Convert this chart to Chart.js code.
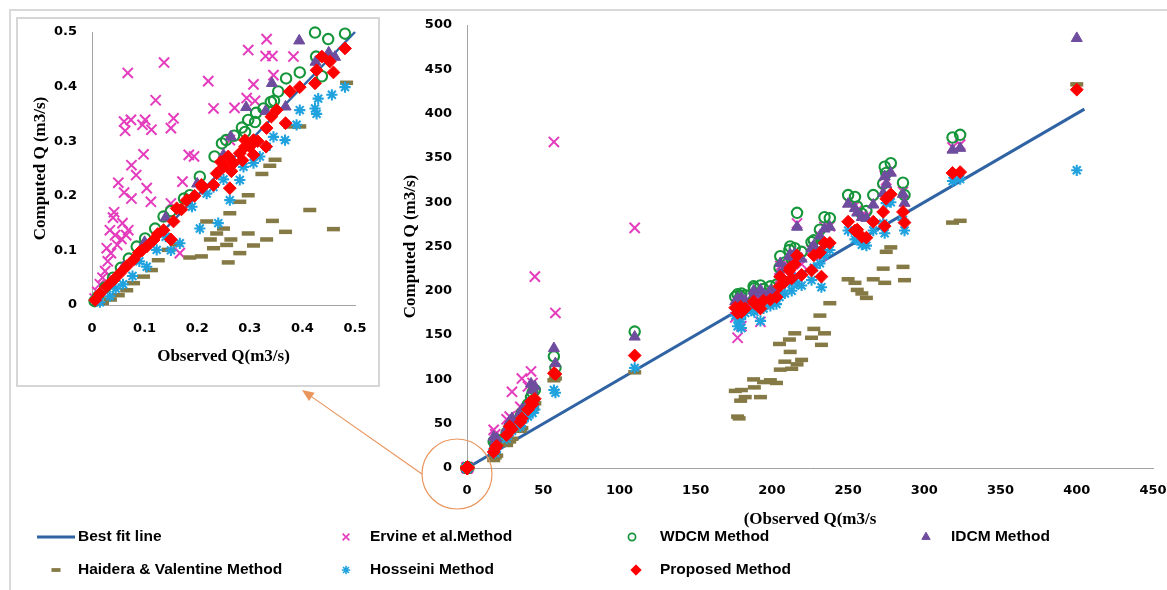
<!DOCTYPE html>
<html>
<head>
<meta charset="utf-8">
<script src="https://cdn.jsdelivr.net/npm/chart.js@4.4.1/dist/chart.umd.min.js"></script>
<style>
  html, body { margin: 0; padding: 0; background: #fff; }
  #wrap { position: relative; width: 1167px; height: 590px; overflow: hidden; background: #fff; }
  #frame { position: absolute; left: 9px; top: 9px; width: 1300px; height: 700px;
           border-left: 2px solid #d9d9d9; border-top: 2px solid #d9d9d9; }
  #main { position: absolute; left: 0; top: 0; }
  #insetBox { position: absolute; left: 16px; top: 17px; width: 360px; height: 366px;
              border: 2px solid #d6d6d6; background: #fff; }
  #inset { position: absolute; left: 0; top: 0; }
</style>
</head>
<body>
<div id="wrap">
  <div id="frame"></div>
  <canvas id="main" width="1167" height="590"></canvas>
  <div id="insetBox"><canvas id="inset" width="360" height="366"></canvas></div>
</div>
<script>
// ---------- axis ticks ----------
const mainXTicks = [0, 50, 100, 150, 200, 250, 300, 350, 400, 450];
const mainYTicks = [0, 50, 100, 150, 200, 250, 300, 350, 400, 450, 500];
const insetTicks = [0, 0.1, 0.2, 0.3, 0.4, 0.5];
const insetTickLabels = ['0', '0.1', '0.2', '0.3', '0.4', '0.5'];

// ---------- best fit line (Q computed = Q observed) ----------
const bestFitObs = [0, 405];
const bestFitQ = [0, 405];
const bestFitInsetObs = [0, 0.5];
const bestFitInsetQ = [0, 0.5];

// ---------- large flows (m3/s): observed discharge and computed values ----------
const obsLarge = [17.5, 18.5, 19.5, 26, 28, 29.5, 35, 36, 40, 42, 43, 44.5, 57, 58, 110,
  176, 177.5, 178.5, 179.5, 180, 182.5, 188, 188.5, 192.5, 194.5, 199, 203,
  205.5, 205, 208.5, 211.5, 212, 213, 215, 216.5, 219.5,
  226, 227.5, 231.5, 232.5, 234.5, 238, 250, 254.5, 256, 259, 262,
  266.5, 273, 274, 275, 278, 286, 287, 318.5, 323.5, 400];
const ervineLarge = [43, 38, 33, 55, 58, 86, 69, 101, 92, 109, 96, 216, 368, 175, 271,
  170, 147, 182, 185, 160, 188, 196, 192, 165, 198, 197, 201,
  228, 214, 222, 233, 236, 224, 240, 276, 230,
  246, 250, 262, 240, 272, 273, 300, 296, 291, 285, 284,
  300, 313, 330, 325, 336, 312, 301, 362, 365, null];
const wdcmLarge = [30, 27, 32, 40, 47, 50, 58, 62, 72, 80, 85, 88, 126, 113, 154,
  193, 196, 190, 194, 197, 195, 205, 203, 206, 202, 205, 207,
  239, 226, 232, 246, 250, 236, 248, 288, 244,
  255, 257, 269, 253, 283, 282, 308, 306, 295, 287, 290,
  308, 321, 340, 333, 344, 322, 308, 373, 376, null];
const idcmLarge = [35, 30, 33, 44, 53, 56, 62, 66, 73, 95, 88, 92, 135, 118, 148,
  188, 191, 186, 190, 192, 189, 200, 197, 201, 196, 200, 202,
  231, 219, 225, 239, 241, 229, 242, 272, 236,
  248, 251, 262, 246, 270, 272, 298, 293, 288, 283, 282,
  297, 310, 329, 320, 333, 309, 299, 359, 361, 485];
const haideraLarge = [9, 12, 14, 26, 30, 33, 42, 45, 62, 70, 67, 73, 99, 101, 108,
  87, 58, 56, 76, 88, 80, 100, 91, 80, 97, 99, 96,
  111, 140, 120, 145, 131, 112, 152, 117, 122,
  147, 157, 172, 139, 152, 186, 213, 209, 201, 197, 192,
  213, 225, 209, 244, 249, 227, 212, 277, 279, 433];
const hosseiniLarge = [20, 17, 22, 33, 40, 42, 47, 51, 58, 65, 62, 66, 88, 85, 113,
  172, 160, 165, 168, 158, 175, 178, 176, 166, 180, 183, 185,
  203, 193, 197, 209, 212, 200, 214, 208, 206,
  212, 226, 231, 204, 240, 246, 268, 258, 259, 252, 251,
  268, 276, 265, 299, 300, 280, 268, 324, 326, 336];
const proposedLarge = [18, 22, 25, 37, 47, 44, 52, 56, 66, 75, 72, 78, 107, 106, 127,
  181, 175, 178, 182, 176, 180, 188, 186, 180, 189, 190, 193,
  216, 205, 210, 223, 226, 214, 230, 240, 218,
  223, 240, 243, 216, 254, 254, 278, 268, 269, 261, 260,
  278, 289, 273, 304, 309, 289, 277, 333, 334, 427];

// ---------- small flows (m3/s) ----------
const ervineSmallObs = [0.068, 0.137, 0.121, 0.221, 0.332, 0.297, 0.330, 0.343, 0.383, 0.345,
  0.307, 0.231, 0.271, 0.294, 0.310, 0.061, 0.074, 0.063, 0.101, 0.113,
  0.096, 0.155, 0.150, 0.098, 0.075, 0.084, 0.050, 0.061, 0.075, 0.104,
  0.112, 0.042, 0.184, 0.194, 0.172, 0.150, 0.262, 0.167, 0.034, 0.028,
  0.044, 0.056, 0.069, 0.040, 0.020, 0.025, 0.030, 0.015, 0.010, 0.005,
  0.036, 0.048, 0.058, 0.065];
const ervineSmallQ = [0.425, 0.444, 0.375, 0.410, 0.487, 0.467, 0.456, 0.456, 0.455, 0.421,
  0.404, 0.360, 0.361, 0.379, 0.374, 0.336, 0.339, 0.319, 0.339, 0.321,
  0.330, 0.342, 0.324, 0.276, 0.256, 0.238, 0.224, 0.206, 0.195, 0.214,
  0.189, 0.170, 0.275, 0.272, 0.226, 0.186, 0.302, 0.095, 0.137, 0.104,
  0.128, 0.121, 0.137, 0.160, 0.050, 0.062, 0.080, 0.038, 0.024, 0.012,
  0.095, 0.110, 0.150, 0.128];
const wdcmSmallObs = [0.424, 0.449, 0.481, 0.426, 0.437, 0.395, 0.369, 0.354, 0.346, 0.326,
  0.297, 0.291, 0.247, 0.205, 0.186, 0.136, 0.101, 0.085, 0.312, 0.285,
  0.270, 0.255, 0.233, 0.175, 0.150, 0.120, 0.070, 0.055, 0.040, 0.025,
  0.012, 0.005, 0.340, 0.310];
const wdcmSmallQ = [0.499, 0.487, 0.497, 0.455, 0.419, 0.426, 0.415, 0.391, 0.374, 0.360,
  0.339, 0.317, 0.296, 0.235, 0.201, 0.162, 0.122, 0.107, 0.352, 0.325,
  0.310, 0.302, 0.272, 0.195, 0.172, 0.140, 0.085, 0.068, 0.050, 0.032,
  0.016, 0.007, 0.372, 0.335];
const idcmSmallObs = [0.394, 0.293, 0.264, 0.342, 0.368, 0.462, 0.425, 0.330, 0.250, 0.140,
  0.100, 0.060, 0.030, 0.010, 0.450, 0.200];
const idcmSmallQ = [0.484, 0.362, 0.308, 0.406, 0.363, 0.454, 0.445, 0.355, 0.275, 0.160,
  0.115, 0.070, 0.036, 0.012, 0.462, 0.222];
const haideraSmallObs = [0.414, 0.459, 0.368, 0.343, 0.332, 0.307, 0.297, 0.281, 0.259, 0.262,
  0.264, 0.256, 0.237, 0.231, 0.208, 0.186, 0.281, 0.297, 0.323, 0.338,
  0.348, 0.376, 0.395, 0.484, 0.218, 0.126, 0.113, 0.098, 0.079, 0.066,
  0.050, 0.035, 0.020, 0.145, 0.160, 0.250, 0.225];
const haideraSmallQ = [0.174, 0.139, 0.134, 0.154, 0.120, 0.109, 0.131, 0.095, 0.078, 0.168,
  0.120, 0.110, 0.131, 0.104, 0.089, 0.087, 0.189, 0.201, 0.240, 0.255,
  0.266, 0.327, 0.327, 0.407, 0.153, 0.082, 0.064, 0.052, 0.040, 0.027,
  0.018, 0.010, 0.004, 0.101, 0.111, 0.140, 0.120];
const hosseiniSmallObs = [0.481, 0.456, 0.430, 0.424, 0.427, 0.395, 0.389, 0.367, 0.345, 0.332,
  0.319, 0.307, 0.288, 0.281, 0.262, 0.240, 0.205, 0.167, 0.150, 0.123,
  0.104, 0.077, 0.059, 0.034, 0.218, 0.231, 0.250, 0.190, 0.140, 0.090,
  0.015, 0.045];
const hosseiniSmallQ = [0.399, 0.385, 0.378, 0.360, 0.350, 0.357, 0.330, 0.302, 0.308, 0.290,
  0.272, 0.260, 0.253, 0.229, 0.192, 0.150, 0.140, 0.113, 0.100, 0.101,
  0.070, 0.053, 0.038, 0.016, 0.204, 0.216, 0.230, 0.180, 0.125, 0.080,
  0.005, 0.030];
const proposedSmallObs = [0.481, 0.459, 0.452, 0.437, 0.424, 0.427, 0.395, 0.376, 0.368, 0.351,
  0.332, 0.331, 0.307, 0.291, 0.281, 0.269, 0.259, 0.250, 0.237, 0.231,
  0.208, 0.180, 0.161, 0.155, 0.150, 0.136, 0.117, 0.104, 0.089, 0.079,
  0.066, 0.053, 0.041, 0.028, 0.015, 0.006, 0.262, 0.291, 0.307, 0.341,
  0.265, 0.245, 0.210, 0.195, 0.170, 0.125, 0.095, 0.315, 0.300, 0.286];
const proposedSmallQ = [0.470, 0.426, 0.446, 0.455, 0.406, 0.430, 0.399, 0.391, 0.333, 0.357,
  0.324, 0.290, 0.275, 0.290, 0.278, 0.260, 0.272, 0.253, 0.241, 0.220,
  0.220, 0.192, 0.177, 0.153, 0.120, 0.137, 0.119, 0.107, 0.096, 0.083,
  0.071, 0.058, 0.046, 0.034, 0.021, 0.009, 0.214, 0.302, 0.302, 0.345,
  0.245, 0.262, 0.215, 0.200, 0.175, 0.130, 0.100, 0.300, 0.290, 0.265];

// ---------- marker styles ----------
const lineColor = '#2F63A4';
const accent = '#E9955D';
const methods = [
  { label: 'Ervine et al.Method', obs: ervineSmallObs, q: ervineSmallQ, large: ervineLarge,
    pointStyle: 'crossRot', radius: 7.2, borderWidth: 2, color: '#E43CBD', fill: 'rgba(0,0,0,0)', order: 6 },
  { label: 'WDCM Method', obs: wdcmSmallObs, q: wdcmSmallQ, large: wdcmLarge,
    pointStyle: 'circle', radius: 5.2, borderWidth: 2.1, color: '#16963A', fill: 'rgba(0,0,0,0)', order: 5 },
  { label: 'IDCM Method', obs: idcmSmallObs, q: idcmSmallQ, large: idcmLarge,
    pointStyle: 'triangle', radius: 6.4, borderWidth: 1, color: '#6F4D9E', fill: '#6F4D9E', order: 4 },
  { label: 'Haidera & Valentine Method', obs: haideraSmallObs, q: haideraSmallQ, large: haideraLarge,
    pointStyle: 'line', radius: 6.5, borderWidth: 4.5, color: '#857A45', fill: '#857A45', order: 3 },
  { label: 'Hosseini Method', obs: hosseiniSmallObs, q: hosseiniSmallQ, large: hosseiniLarge,
    pointStyle: 'star', radius: 5.6, borderWidth: 2.1, color: '#20A2DF', fill: '#20A2DF', order: 2 },
  { label: 'Proposed Method', obs: proposedSmallObs, q: proposedSmallQ, large: proposedLarge,
    pointStyle: 'rectRot', radius: 6.4, borderWidth: 1, color: '#FF0000', fill: '#FF0000', order: 1 }
];

function pairs(xs, ys) {
  const out = [];
  xs.forEach((x, i) => { if (ys[i] !== null && ys[i] !== undefined) out.push({ x: x, y: ys[i] }); });
  return out;
}

function methodDataset(m, data) {
  return {
    label: m.label, data: data, showLine: false, clip: false, order: m.order,
    pointStyle: m.pointStyle, pointRadius: m.radius, pointHoverRadius: m.radius,
    pointBorderWidth: m.borderWidth, pointBorderColor: m.color, pointBackgroundColor: m.fill
  };
}

function fitDataset(xs, ys) {
  return {
    type: 'line', label: 'Best fit line', data: pairs(xs, ys), showLine: true,
    borderColor: lineColor, borderWidth: 3, pointRadius: 0, fill: false, order: 10, clip: false
  };
}

const tickFont = { family: 'DejaVu Sans', weight: 'bold', size: 13 };
const titleFont = { family: 'Liberation Serif', weight: 'bold', size: 17 };
const axisBorder = { display: true, color: '#a3a3a3', width: 1 };

function fixedTicks(list) {
  return scale => { scale.ticks = list.map(v => ({ value: v })); };
}

// fixed axis box size; tick labels may overhang into the layout padding
function fitBox(prop, size) {
  return scale => {
    scale[prop] = size;
    scale.paddingLeft = 0; scale.paddingRight = 0;
    scale.paddingTop = 0; scale.paddingBottom = 0;
  };
}

// ---------- legend, zoom circle and pointer arrow ----------
function drawMarker(ctx, m, x, y, r, lw) {
  ctx.save();
  ctx.strokeStyle = m.color;
  ctx.fillStyle = m.fill;
  ctx.lineWidth = lw;
  Chart.helpers.drawPoint(ctx, { pointStyle: m.pointStyle, radius: r, borderWidth: lw, rotation: 0 }, x, y);
  ctx.restore();
}

const overlayPlugin = {
  id: 'overlay',
  afterDraw(chart) {
    const ctx = chart.ctx;
    const ox = chart.scales.x.getPixelForValue(0);
    const oy = chart.scales.y.getPixelForValue(0);

    // circle around the origin region shown in the inset
    const cx = ox - 10, cy = oy + 6, r = 35;
    ctx.save();
    ctx.strokeStyle = accent;
    ctx.lineWidth = 1.2;
    ctx.beginPath();
    ctx.arc(cx, cy, r, 0, Math.PI * 2);
    ctx.stroke();

    // arrow from the circle to the inset
    const sx = cx - r, sy = cy;
    const tx = ox - 165, ty = oy - 78;
    const ang = Math.atan2(ty - sy, tx - sx);
    const head = 12, half = 5;
    const bx = tx - Math.cos(ang) * head, by = ty - Math.sin(ang) * head;
    ctx.beginPath();
    ctx.moveTo(sx, sy);
    ctx.lineTo(bx, by);
    ctx.stroke();
    ctx.fillStyle = accent;
    ctx.beginPath();
    ctx.moveTo(tx, ty);
    ctx.lineTo(bx + Math.sin(ang) * half, by - Math.cos(ang) * half);
    ctx.lineTo(bx - Math.sin(ang) * half, by + Math.cos(ang) * half);
    ctx.closePath();
    ctx.fill();
    ctx.restore();

    // legend
    const row1 = 537, row2 = 570;
    ctx.save();
    ctx.font = 'bold 15.5px "Liberation Sans", Arial, sans-serif';
    ctx.fillStyle = '#000';
    ctx.textBaseline = 'middle';
    ctx.textAlign = 'left';
    ctx.strokeStyle = lineColor;
    ctx.lineWidth = 3;
    ctx.beginPath();
    ctx.moveTo(37, row1);
    ctx.lineTo(75, row1);
    ctx.stroke();
    ctx.fillText('Best fit line', 78, row1);

    const items = [
      { m: methods[0], mx: 346, tx: 370, y: row1, r: 4.8, lw: 1.6 },
      { m: methods[1], mx: 632, tx: 660, y: row1, r: 3.6, lw: 1.7 },
      { m: methods[2], mx: 926, tx: 951, y: row1, r: 4.8, lw: 1 },
      { m: methods[3], mx: 56, tx: 78, y: row2, r: 4.5, lw: 3.8 },
      { m: methods[4], mx: 346, tx: 370, y: row2, r: 4.2, lw: 1.6 },
      { m: methods[5], mx: 636, tx: 660, y: row2, r: 5.2, lw: 1 }
    ];
    items.forEach(it => {
      drawMarker(ctx, it.m, it.mx, it.y, it.r, it.lw);
      ctx.fillStyle = '#000';
      ctx.fillText(it.m.label, it.tx, it.y);
    });
    ctx.restore();
  }
};

// ---------- main chart: full discharge range ----------
const mainDatasets = [fitDataset(bestFitObs, bestFitQ)].concat(
  methods.map(m => methodDataset(m, pairs(m.obs, m.q).concat(pairs(obsLarge, m.large))))
);

new Chart(document.getElementById('main'), {
  type: 'scatter',
  data: { datasets: mainDatasets },
  options: {
    responsive: false,
    animation: false,
    events: [],
    layout: { padding: { left: 396, right: 14, top: 25, bottom: 0 } },
    plugins: { legend: { display: false }, tooltip: { enabled: false } },
    scales: {
      x: {
        type: 'linear', min: 0, max: 450,
        afterBuildTicks: fixedTicks(mainXTicks),
        afterFit: fitBox('height', 122),
        grid: { display: false, drawTicks: false },
        border: axisBorder,
        ticks: { padding: 15, color: '#000', font: tickFont, maxRotation: 0, autoSkip: false },
        title: { display: true, text: '(Observed Q(m3/s', color: '#000', font: titleFont,
                 padding: { top: 0, bottom: 60 } }
      },
      y: {
        type: 'linear', min: 0, max: 500,
        afterBuildTicks: fixedTicks(mainYTicks),
        afterFit: fitBox('width', 71),
        grid: { display: false, drawTicks: false },
        border: axisBorder,
        ticks: { padding: 15, color: '#000', font: tickFont, autoSkip: false },
        title: { display: true, text: 'Computed Q (m3/s)', color: '#000', font: titleFont,
                 padding: { top: 4, bottom: 0 } }
      }
    }
  },
  plugins: [overlayPlugin]
});

// ---------- inset chart: small discharges ----------
const insetDatasets = [fitDataset(bestFitInsetObs, bestFitInsetQ)].concat(
  methods.map(m => methodDataset(m, pairs(m.obs, m.q)))
);
insetDatasets[0].borderWidth = 2.5;

new Chart(document.getElementById('inset'), {
  type: 'scatter',
  data: { datasets: insetDatasets },
  options: {
    responsive: false,
    animation: false,
    events: [],
    layout: { padding: { left: 8, right: 23, top: 13, bottom: 0 } },
    plugins: { legend: { display: false }, tooltip: { enabled: false } },
    scales: {
      x: {
        type: 'linear', min: 0, max: 0.5,
        afterBuildTicks: fixedTicks(insetTicks),
        afterFit: fitBox('height', 80),
        grid: { display: false, drawTicks: false },
        border: axisBorder,
        ticks: { padding: 16, color: '#000', font: tickFont, maxRotation: 0, autoSkip: false,
                 callback: (v, i) => insetTickLabels[i] },
        title: { display: true, text: 'Observed Q(m3/s)', color: '#000', font: titleFont,
                 padding: { top: 0, bottom: 18 } }
      },
      y: {
        type: 'linear', min: 0, max: 0.5,
        afterBuildTicks: fixedTicks(insetTicks),
        afterFit: fitBox('width', 66),
        grid: { display: false, drawTicks: false },
        border: axisBorder,
        ticks: { padding: 15, color: '#000', font: tickFont, autoSkip: false,
                 callback: (v, i) => insetTickLabels[i] },
        title: { display: true, text: 'Computed Q (m3/s)', color: '#000', font: titleFont,
                 padding: { top: 4, bottom: 0 } }
      }
    }
  }
});
</script>
</body>
</html>
